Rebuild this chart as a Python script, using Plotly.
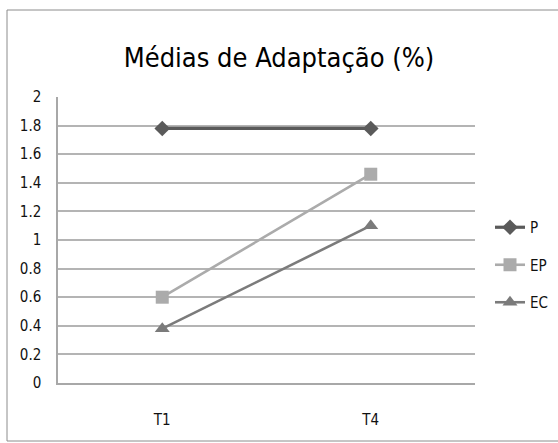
import plotly.graph_objects as go

# Category labels and series means
categories = ["T1", "T4"]
series_names = ["P", "EP", "EC"]
p_values = [1.78, 1.78]
ep_values = [0.60, 1.46]
ec_values = [0.38, 1.10]
y_ticks = [0, 0.2, 0.4, 0.6, 0.8, 1, 1.2, 1.4, 1.6, 1.8, 2]
y_tick_labels = ["0", "0.2", "0.4", "0.6", "0.8", "1", "1.2", "1.4", "1.6", "1.8", "2"]

W, H = 558, 443
L, R, T, B = 58, 0, 97, 60
PLOT_RIGHT = 475  # right edge of the plotting area, in pixels
pw, ph = W - L - R, H - T - B

FONT = "DejaVu Sans Condensed, Open Sans"

styles = [
    dict(color="#5a5a5a", width=3.2, symbol="diamond", size=12),
    dict(color="#ababab", width=2.6, symbol="square", size=13),
    dict(color="#7b7b7b", width=2.6, symbol="triangle-up", size=13),
]

fig = go.Figure()
for name, vals, st in zip(series_names, [p_values, ep_values, ec_values], styles):
    fig.add_trace(go.Scatter(
        x=categories, y=vals, name=name, mode="lines+markers",
        line=dict(color=st["color"], width=st["width"]),
        marker=dict(symbol=st["symbol"], size=st["size"], color=st["color"]),
        legendgroup=name,
    ))

def px_x(v):
    return (v - L) / pw

def px_y(v):
    return (H - B - v) / ph

fig.update_layout(
    width=W, height=H,
    margin=dict(l=L, r=R, t=T, b=B),
    paper_bgcolor="white", plot_bgcolor="white",
    font=dict(family=FONT, color="#111111", size=15),
    title=dict(text="Médias de Adaptação (%)", x=0.5, xanchor="center",
               y=1 - 58 / H, yanchor="middle",
               font=dict(family=FONT, size=27, color="#000000")),
    showlegend=True,
    legend=dict(x=px_x(490), y=px_y(223) + 12 / ph, xanchor="left", yanchor="top",
                tracegroupgap=15, font=dict(size=15, color="#111111"),
                itemwidth=30, bgcolor="rgba(0,0,0,0)"),
    xaxis=dict(type="category", range=[-0.5, 1.5], domain=[0, px_x(PLOT_RIGHT)],
               showgrid=False,
               showline=True, linecolor="#a8a8a8", linewidth=1.5,
               ticks="", ticklabelstandoff=22, tickfont=dict(size=15)),
    yaxis=dict(range=[0, 2], tickvals=y_ticks, ticktext=y_tick_labels,
               showgrid=True, gridcolor="#b4b4b4", gridwidth=1.5,
               showline=True, linecolor="#a8a8a8", linewidth=1.5,
               zeroline=False, ticks="", ticklabelstandoff=12,
               tickfont=dict(size=15)),
    shapes=[dict(type="rect", xref="paper", yref="paper",
                 x0=px_x(7), x1=px_x(565), y0=px_y(441), y1=px_y(10),
                 line=dict(color="#8c8c8c", width=1), layer="below")],
)

fig.write_html("out.html")
